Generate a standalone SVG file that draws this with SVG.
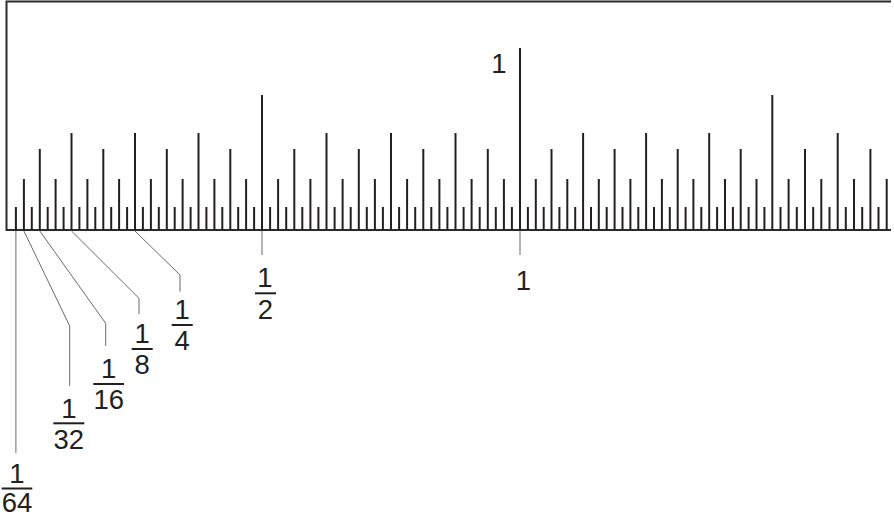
<svg xmlns="http://www.w3.org/2000/svg" width="894" height="517" viewBox="0 0 894 517">
<style>
  .t{stroke:#231f20;stroke-width:2;fill:none}
  .frame{stroke:#2b2b2b;stroke-width:2;fill:none}
  .lead{stroke:#6a6a6a;stroke-width:1;fill:none}
  .n{font-family:"Liberation Sans",Arial,sans-serif;font-size:27.5px;fill:#231f20;text-anchor:middle}
  .bar{fill:#231f20}
</style>
<rect x="0" y="0" width="894" height="517" fill="#ffffff"/>
<g id="ruler">
  <polyline class="frame" points="891,1.5 6.5,1.5 6.5,230 891,230"/>
  <g id="ticks" class="t">
    <line x1="15.9" y1="230" x2="15.9" y2="207"/>
    <line x1="23.9" y1="230" x2="23.9" y2="179"/>
    <line x1="31.8" y1="230" x2="31.8" y2="207"/>
    <line x1="39.8" y1="230" x2="39.8" y2="149"/>
    <line x1="47.7" y1="230" x2="47.7" y2="207"/>
    <line x1="55.6" y1="230" x2="55.6" y2="179"/>
    <line x1="63.6" y1="230" x2="63.6" y2="207"/>
    <line x1="71.5" y1="230" x2="71.5" y2="133"/>
    <line x1="79.4" y1="230" x2="79.4" y2="207"/>
    <line x1="87.4" y1="230" x2="87.4" y2="179"/>
    <line x1="95.3" y1="230" x2="95.3" y2="207"/>
    <line x1="103.3" y1="230" x2="103.3" y2="149"/>
    <line x1="111.2" y1="230" x2="111.2" y2="207"/>
    <line x1="119.1" y1="230" x2="119.1" y2="179"/>
    <line x1="127.1" y1="230" x2="127.1" y2="207"/>
    <line x1="135.0" y1="230" x2="135.0" y2="133"/>
    <line x1="142.9" y1="230" x2="142.9" y2="207"/>
    <line x1="150.9" y1="230" x2="150.9" y2="179"/>
    <line x1="158.8" y1="230" x2="158.8" y2="207"/>
    <line x1="166.8" y1="230" x2="166.8" y2="149"/>
    <line x1="174.7" y1="230" x2="174.7" y2="207"/>
    <line x1="182.6" y1="230" x2="182.6" y2="179"/>
    <line x1="190.6" y1="230" x2="190.6" y2="207"/>
    <line x1="198.5" y1="230" x2="198.5" y2="133"/>
    <line x1="206.4" y1="230" x2="206.4" y2="207"/>
    <line x1="214.4" y1="230" x2="214.4" y2="179"/>
    <line x1="222.3" y1="230" x2="222.3" y2="207"/>
    <line x1="230.3" y1="230" x2="230.3" y2="149"/>
    <line x1="238.2" y1="230" x2="238.2" y2="207"/>
    <line x1="246.1" y1="230" x2="246.1" y2="179"/>
    <line x1="254.1" y1="230" x2="254.1" y2="207"/>
    <line x1="262.0" y1="230" x2="262.0" y2="95"/>
    <line x1="270.1" y1="230" x2="270.1" y2="207"/>
    <line x1="278.1" y1="230" x2="278.1" y2="179"/>
    <line x1="286.2" y1="230" x2="286.2" y2="207"/>
    <line x1="294.3" y1="230" x2="294.3" y2="149"/>
    <line x1="302.3" y1="230" x2="302.3" y2="207"/>
    <line x1="310.4" y1="230" x2="310.4" y2="179"/>
    <line x1="318.4" y1="230" x2="318.4" y2="207"/>
    <line x1="326.5" y1="230" x2="326.5" y2="133"/>
    <line x1="334.6" y1="230" x2="334.6" y2="207"/>
    <line x1="342.6" y1="230" x2="342.6" y2="179"/>
    <line x1="350.7" y1="230" x2="350.7" y2="207"/>
    <line x1="358.8" y1="230" x2="358.8" y2="149"/>
    <line x1="366.8" y1="230" x2="366.8" y2="207"/>
    <line x1="374.9" y1="230" x2="374.9" y2="179"/>
    <line x1="382.9" y1="230" x2="382.9" y2="207"/>
    <line x1="391.0" y1="230" x2="391.0" y2="133"/>
    <line x1="399.1" y1="230" x2="399.1" y2="207"/>
    <line x1="407.1" y1="230" x2="407.1" y2="179"/>
    <line x1="415.2" y1="230" x2="415.2" y2="207"/>
    <line x1="423.3" y1="230" x2="423.3" y2="149"/>
    <line x1="431.3" y1="230" x2="431.3" y2="207"/>
    <line x1="439.4" y1="230" x2="439.4" y2="179"/>
    <line x1="447.4" y1="230" x2="447.4" y2="207"/>
    <line x1="455.5" y1="230" x2="455.5" y2="133"/>
    <line x1="463.6" y1="230" x2="463.6" y2="207"/>
    <line x1="471.6" y1="230" x2="471.6" y2="179"/>
    <line x1="479.7" y1="230" x2="479.7" y2="207"/>
    <line x1="487.8" y1="230" x2="487.8" y2="149"/>
    <line x1="495.8" y1="230" x2="495.8" y2="207"/>
    <line x1="503.9" y1="230" x2="503.9" y2="179"/>
    <line x1="511.9" y1="230" x2="511.9" y2="207"/>
    <line x1="520.0" y1="230" x2="520.0" y2="48"/>
    <line x1="527.9" y1="230" x2="527.9" y2="207"/>
    <line x1="535.8" y1="230" x2="535.8" y2="179"/>
    <line x1="543.7" y1="230" x2="543.7" y2="207"/>
    <line x1="551.5" y1="230" x2="551.5" y2="149"/>
    <line x1="559.4" y1="230" x2="559.4" y2="207"/>
    <line x1="567.3" y1="230" x2="567.3" y2="179"/>
    <line x1="575.2" y1="230" x2="575.2" y2="207"/>
    <line x1="583.1" y1="230" x2="583.1" y2="133"/>
    <line x1="591.0" y1="230" x2="591.0" y2="207"/>
    <line x1="598.8" y1="230" x2="598.8" y2="179"/>
    <line x1="606.7" y1="230" x2="606.7" y2="207"/>
    <line x1="614.6" y1="230" x2="614.6" y2="149"/>
    <line x1="622.5" y1="230" x2="622.5" y2="207"/>
    <line x1="630.4" y1="230" x2="630.4" y2="179"/>
    <line x1="638.3" y1="230" x2="638.3" y2="207"/>
    <line x1="646.1" y1="230" x2="646.1" y2="133"/>
    <line x1="654.0" y1="230" x2="654.0" y2="207"/>
    <line x1="661.9" y1="230" x2="661.9" y2="179"/>
    <line x1="669.8" y1="230" x2="669.8" y2="207"/>
    <line x1="677.7" y1="230" x2="677.7" y2="149"/>
    <line x1="685.6" y1="230" x2="685.6" y2="207"/>
    <line x1="693.4" y1="230" x2="693.4" y2="179"/>
    <line x1="701.3" y1="230" x2="701.3" y2="207"/>
    <line x1="709.2" y1="230" x2="709.2" y2="133"/>
    <line x1="717.1" y1="230" x2="717.1" y2="207"/>
    <line x1="725.0" y1="230" x2="725.0" y2="179"/>
    <line x1="732.9" y1="230" x2="732.9" y2="207"/>
    <line x1="740.7" y1="230" x2="740.7" y2="149"/>
    <line x1="748.6" y1="230" x2="748.6" y2="207"/>
    <line x1="756.5" y1="230" x2="756.5" y2="179"/>
    <line x1="764.4" y1="230" x2="764.4" y2="207"/>
    <line x1="772.3" y1="230" x2="772.3" y2="95"/>
    <line x1="780.5" y1="230" x2="780.5" y2="207"/>
    <line x1="788.6" y1="230" x2="788.6" y2="179"/>
    <line x1="796.8" y1="230" x2="796.8" y2="207"/>
    <line x1="805.0" y1="230" x2="805.0" y2="149"/>
    <line x1="813.2" y1="230" x2="813.2" y2="207"/>
    <line x1="821.3" y1="230" x2="821.3" y2="179"/>
    <line x1="829.5" y1="230" x2="829.5" y2="207"/>
    <line x1="837.7" y1="230" x2="837.7" y2="133"/>
    <line x1="845.8" y1="230" x2="845.8" y2="207"/>
    <line x1="854.0" y1="230" x2="854.0" y2="179"/>
    <line x1="862.2" y1="230" x2="862.2" y2="207"/>
    <line x1="870.4" y1="230" x2="870.4" y2="149"/>
    <line x1="878.5" y1="230" x2="878.5" y2="207"/>
    <line x1="886.7" y1="230" x2="886.7" y2="179"/>
  </g>
  <text class="n" x="499" y="73">1</text>
</g>
<g id="connectors" class="lead">
  <polyline points="15.9,231 15.9,453"/>
  <polyline points="23.9,231 69.7,326 69.7,386"/>
  <polyline points="39.8,231 105.7,323.3 105.7,346"/>
  <polyline points="71.5,231 139,298.3 139,314"/>
  <polyline points="135,231 180,275 180,291.7"/>
  <polyline points="262,231 262,255"/>
  <polyline points="520,231 520,255"/>
</g>
<g id="label-1-64">
  <text class="n" x="17" y="482.5">1</text>
  <rect class="bar" x="1.7" y="487.5" width="30.6" height="2"/>
  <text class="n" x="17" y="511.5">64</text>
</g>
<g id="label-1-32">
  <text class="n" x="68.8" y="418">1</text>
  <rect class="bar" x="53.3" y="422.3" width="31" height="2"/>
  <text class="n" x="68.8" y="449">32</text>
</g>
<g id="label-1-16">
  <text class="n" x="108.7" y="377.5">1</text>
  <rect class="bar" x="93.3" y="383" width="30.7" height="2"/>
  <text class="n" x="108.7" y="409">16</text>
</g>
<g id="label-1-8">
  <text class="n" x="142.2" y="342.5">1</text>
  <rect class="bar" x="131.7" y="348" width="21" height="2"/>
  <text class="n" x="142.2" y="374">8</text>
</g>
<g id="label-1-4">
  <text class="n" x="182.2" y="319">1</text>
  <rect class="bar" x="171.7" y="324" width="21" height="2"/>
  <text class="n" x="182.2" y="350">4</text>
</g>
<g id="label-1-2">
  <text class="n" x="265" y="287">1</text>
  <rect class="bar" x="255" y="292.3" width="21" height="2"/>
  <text class="n" x="265.5" y="319">2</text>
</g>
<g id="label-1">
  <text class="n" x="523.5" y="290">1</text>
</g>
</svg>
